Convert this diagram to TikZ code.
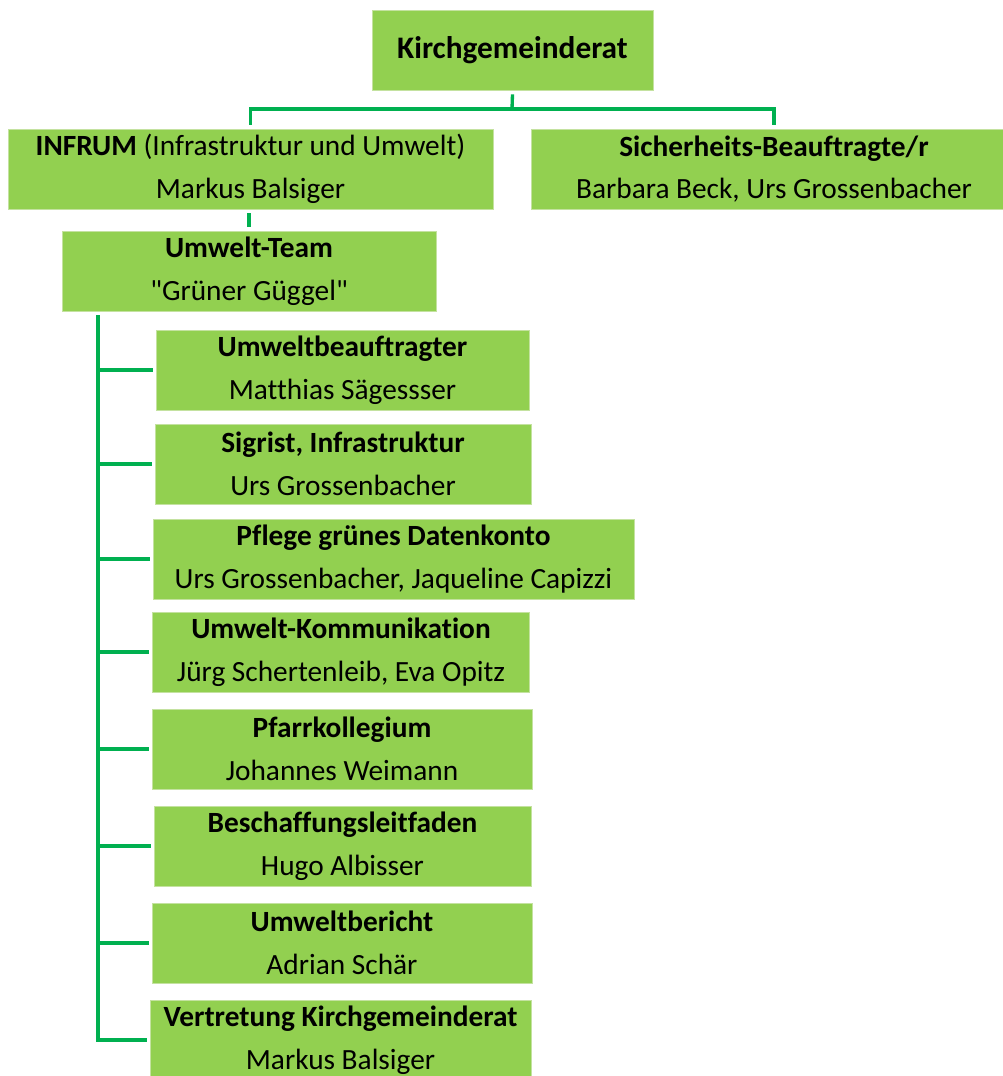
\documentclass[tikz,border=0pt]{standalone}
\usepackage{fontspec}
\newfontfamily\boxfont{Carlito}[Ligatures=NoCommon]
\definecolor{boxgreen}{RGB}{146,208,80}
\definecolor{linegreen}{RGB}{0,176,80}
\definecolor{boxedge}{RGB}{196,226,160}
\begin{document}
\begin{tikzpicture}[x=0.75pt,y=-0.75pt,
    box/.style={draw=boxedge,line width=0.6pt,fill=boxgreen,minimum height=60pt,inner sep=0pt,align=center,font=\boxfont\fontsize{22}{32}\selectfont},
    link/.style={draw=linegreen,line width=2.5pt}]
    \useasboundingbox (0,0) rectangle (1003,1076);
    \node[box,minimum width=210.75pt,font=\boxfont\fontsize{23.5}{32}\selectfont\bfseries] (kgr) at (512.5,50) {Kirchgemeinderat};
    \node[box,minimum width=363.75pt] (infrum) at (250.5,169) {\textbf{INFRUM} (Infrastruktur und Umwelt)\\Markus Balsiger};
    \node[box,minimum width=364.5pt] (sich) at (774,169) {\textbf{Sicherheits-Beauftragte/r}\\Barbara Beck, Urs Grossenbacher};
    \node[box,minimum width=280.5pt] (team) at (249,271) {\textbf{Umwelt-Team}\\"Grüner Güggel"};
    \node[box,minimum width=279.75pt] (ubeauf) at (342.5,370) {\textbf{Umweltbeauftragter}\\Matthias Sägessser};
    \node[box,minimum width=282pt] (sigrist) at (343,464) {\textbf{Sigrist, Infrastruktur}\\Urs Grossenbacher};
    \node[box,minimum width=360.75pt] (konto) at (393.5,559) {\textbf{Pflege grünes Datenkonto}\\Urs Grossenbacher, Jaqueline Capizzi};
    \node[box,minimum width=282.75pt] (kommu) at (341,652) {\textbf{Umwelt-Kommunikation}\\Jürg Schertenleib, Eva Opitz};
    \node[box,minimum width=285pt] (pfarr) at (342,749) {\textbf{Pfarrkollegium}\\Johannes Weimann};
    \node[box,minimum width=282.75pt] (beschaff) at (342.5,846) {\textbf{Beschaffungsleitfaden}\\Hugo Albisser};
    \node[box,minimum width=285pt] (bericht) at (342,943) {\textbf{Umweltbericht}\\Adrian Schär};
    \node[box,minimum width=285.75pt] (vertret) at (340.5,1040) {\textbf{Vertretung Kirchgemeinderat}\\Markus Balsiger};
    \coordinate (fork) at (512,109);
    \coordinate (trunk) at (98,315);
    \draw[link] ([yshift=-3pt]kgr.south) -- (fork);
    \draw[link] ([yshift=3pt]infrum.north) |- (fork) -| ([yshift=3pt]sich.north);
    \draw[link] ([yshift=-3pt]infrum.south -| team.north) -- ([yshift=3pt]team.north);
    \draw[link] (trunk) |- ([xshift=-2.25pt]vertret.west);
    \draw[link] (trunk |- ubeauf.west) -- ([xshift=-2.25pt]ubeauf.west);
    \draw[link] (trunk |- sigrist.west) -- ([xshift=-2.25pt]sigrist.west);
    \draw[link] (trunk |- konto.west) -- ([xshift=-2.25pt]konto.west);
    \draw[link] (trunk |- kommu.west) -- ([xshift=-2.25pt]kommu.west);
    \draw[link] (trunk |- pfarr.west) -- ([xshift=-2.25pt]pfarr.west);
    \draw[link] (trunk |- beschaff.west) -- ([xshift=-2.25pt]beschaff.west);
    \draw[link] (trunk |- bericht.west) -- ([xshift=-2.25pt]bericht.west);
\end{tikzpicture}
\end{document}
